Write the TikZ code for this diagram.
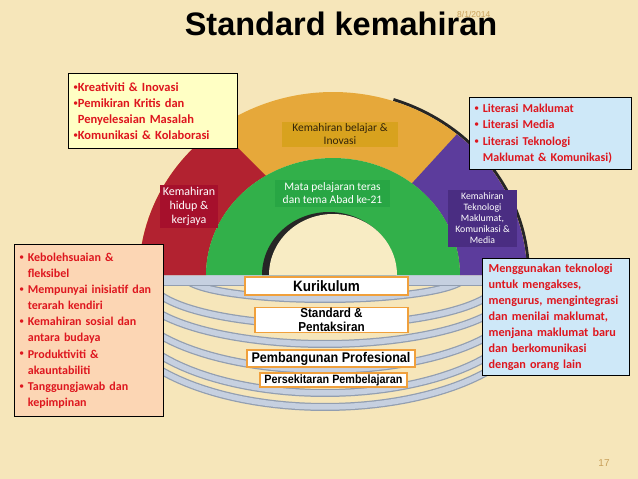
\documentclass[tikz,border=0pt]{standalone}
\usepackage{fontspec}
\setmainfont{Liberation Sans}
\newfontfamily\calfont{Carlito}
\newfontfamily\bulfont{Liberation Sans}
\newfontfamily\narrowfont[FakeStretch=0.9]{Liberation Sans}
\newcommand\smbul{\raisebox{0.2pt}{\bulfont\fontsize{12}{12}\selectfont•}}
\definecolor{bgc}{RGB}{246,230,186}
\definecolor{bandc}{RGB}{198,208,224}
\definecolor{bandedge}{RGB}{146,158,176}
\definecolor{goldc}{RGB}{230,168,58}
\definecolor{goldlab}{RGB}{216,162,30}
\definecolor{redc}{RGB}{178,34,48}
\definecolor{redlab}{RGB}{166,16,44}
\definecolor{greenc}{RGB}{50,176,74}
\definecolor{greenlab}{RGB}{40,166,68}
\definecolor{purc}{RGB}{92,60,156}
\definecolor{purlab}{RGB}{74,45,130}
\definecolor{holec}{RGB}{248,236,196}
\definecolor{redtxt}{RGB}{222,22,30}
\definecolor{yelc}{RGB}{255,255,196}
\definecolor{bluec}{RGB}{206,232,248}
\definecolor{peachc}{RGB}{252,214,180}
\definecolor{orangeb}{RGB}{240,160,60}
\definecolor{tanc}{RGB}{200,160,90}
\definecolor{darktxt}{RGB}{50,35,10}
\tikzset{
  callout/.style={draw=black, line width=1.3pt, anchor=north west, inner xsep=5pt, inner ysep=0pt, align=left, text=redtxt, font=\calfont\bfseries},
  arclab/.style={inner sep=0pt, align=center, font=\calfont},
  stepbox/.style={draw=orangeb, fill=white, line width=1.5pt, inner sep=0pt, align=center, font=\narrowfont\bfseries},
  bandline/.style={line width=8pt, color=bandedge},
  bandfill/.style={line width=5.5pt, color=bandc}
}
\begin{document}
\begin{tikzpicture}[x=1pt,y=-1pt]
\useasboundingbox (0,0) rectangle (638,479);
\fill[bgc] (0,0) rectangle (638,479);
% platform bands
\foreach \cy/\rx/\ry in {310/210/97,300/205/93,290/200/80,284/190/60,280/175/45,276/140/23} {
  \draw[bandline] plot[domain=0:180,samples=60] ({325+\rx*cos(\x)},{\cy+\ry*sin(\x)});
  \draw[bandfill] plot[domain=0:180,samples=60] ({325+\rx*cos(\x)},{\cy+\ry*sin(\x)});
}
\fill[bandc] (138,275) rectangle (505,285);
\draw[bandedge, line width=0.8pt] (138,285.5) -- (505,285.5);
% arch shadow
\draw[line width=3pt, black!85] plot[domain=3:72,samples=40] ({333+195.5*cos(\x)},{275-184.5*sin(\x)});
% outer ring
\begin{scope}
\clip plot[domain=0:180,samples=90] ({333+194*cos(\x)},{275-183*sin(\x)}) -- plot[domain=180:0,samples=90] ({333+127*cos(\x)},{275-117*sin(\x)}) -- cycle;
\fill[goldc] (130,80) rectangle (540,276);
\fill[redc] (157,67) -- (288,198) -- (288,280) -- (100,280) -- (100,67) -- cycle;
\fill[purc] (502,85) -- (392,205) -- (392,280) -- (560,280) -- (560,85) -- cycle;
\end{scope}
% green ring and hole
\fill[greenc] plot[domain=0:180,samples=90] ({333+127*cos(\x)},{275-117*sin(\x)}) -- cycle;
\fill[black!85] plot[domain=0:180,samples=60] ({329+67*cos(\x)},{275-63*sin(\x)}) -- cycle;
\fill[holec] plot[domain=0:180,samples=60] ({333+64*cos(\x)},{275-61*sin(\x)}) -- cycle;
% arc labels
\node[arclab, fill=goldlab, text=darktxt, minimum width=116pt, minimum height=25pt, font=\calfont\fontsize{11.5}{13}\selectfont] (learn) at (340,134.5) {Kemahiran belajar \&\\Inovasi};
\node[arclab, fill=redlab, text=white, minimum width=58pt, minimum height=43pt, font=\calfont\fontsize{12}{14}\selectfont] (life) at (189,206.5) {Kemahiran\\hidup \&\\kerjaya};
\node[arclab, fill=greenlab, text=white, minimum width=115pt, minimum height=27pt, font=\calfont\fontsize{11.5}{13}\selectfont] (core) at (332.5,193.5) {Mata pelajaran teras\\dan tema Abad ke-21};
\node[arclab, fill=purlab, text=white, minimum width=69pt, minimum height=57pt, font=\calfont\fontsize{9.8}{11}\selectfont] (ict) at (482.5,218.5) {Kemahiran\\Teknologi\\Maklumat,\\Komunikasi \&\\Media};
% step boxes
\node[stepbox, minimum width=163pt, minimum height=18pt, font=\narrowfont\bfseries\fontsize{15}{15}\selectfont] (kur) at (326.5,286) {Kurikulum};
\node[stepbox, minimum width=153pt, minimum height=25pt, font=\narrowfont\bfseries\fontsize{13}{12.5}\selectfont] (std) at (331.5,320) {Standard \&\\[1pt]Pentaksiran};
\node[stepbox, minimum width=168pt, minimum height=17pt, font=\narrowfont\bfseries\fontsize{14}{14}\selectfont] (pro) at (331,358.5) {Pembangunan Profesional};
\node[stepbox, minimum width=147pt, minimum height=14pt, font=\narrowfont\bfseries\fontsize{12}{12}\selectfont] (env) at (333.5,380) {Persekitaran Pembelajaran};
% callouts
\node[callout, fill=yelc, text width=159pt, minimum height=75pt, font=\calfont\bfseries\fontsize{12.5}{16}\selectfont] (b1) at (68,73) {\smbul Kreativiti \& Inovasi\\\smbul Pemikiran Kritis dan\\\phantom{\smbul}Penyelesaian Masalah\\\smbul Komunikasi \& Kolaborasi};
\node[callout, fill=bluec, text width=152pt, minimum height=72pt, font=\calfont\bfseries\fontsize{12}{16.5}\selectfont] (b2) at (469,97) {\smbul\ Literasi Maklumat\\\smbul\ Literasi Media\\\smbul\ Literasi Teknologi\\\phantom{\smbul\ }Maklumat \& Komunikasi)};
\node[callout, fill=peachc, text width=139pt, minimum height=172pt, font=\calfont\bfseries\fontsize{12}{16.1}\selectfont] (b3) at (14,244) {\smbul\ Kebolehsuaian \&\\\phantom{\smbul\ }fleksibel\\\smbul\ Mempunyai inisiatif dan\\\phantom{\smbul\ }terarah kendiri\\\smbul\ Kemahiran sosial dan\\\phantom{\smbul\ }antara budaya\\\smbul\ Produktiviti \&\\\phantom{\smbul\ }akauntabiliti\\\smbul\ Tanggungjawab dan\\\phantom{\smbul\ }kepimpinan};
\node[callout, fill=bluec, inner xsep=6pt, text width=135pt, minimum height=117pt, font=\calfont\bfseries\fontsize{12.2}{16}\selectfont] (b4) at (482,258) {Menggunakan teknologi\\untuk mengakses,\\mengurus, mengintegrasi\\dan menilai maklumat,\\menjana maklumat baru\\dan berkomunikasi\\dengan orang lain};
% title and page marks
\node[anchor=base, inner sep=0pt, font=\bfseries\fontsize{32.5}{32.5}\selectfont] (title) at (341,35) {Standard kemahiran};
\node[anchor=base west, inner sep=0pt, text=tanc, font=\fontsize{8.5}{8.5}\selectfont] (date) at (457,17) {8/1/2014};
\node[anchor=base, inner sep=0pt, text=tanc, font=\fontsize{10}{10}\selectfont] (page) at (604,466) {17};
\end{tikzpicture}
\end{document}
